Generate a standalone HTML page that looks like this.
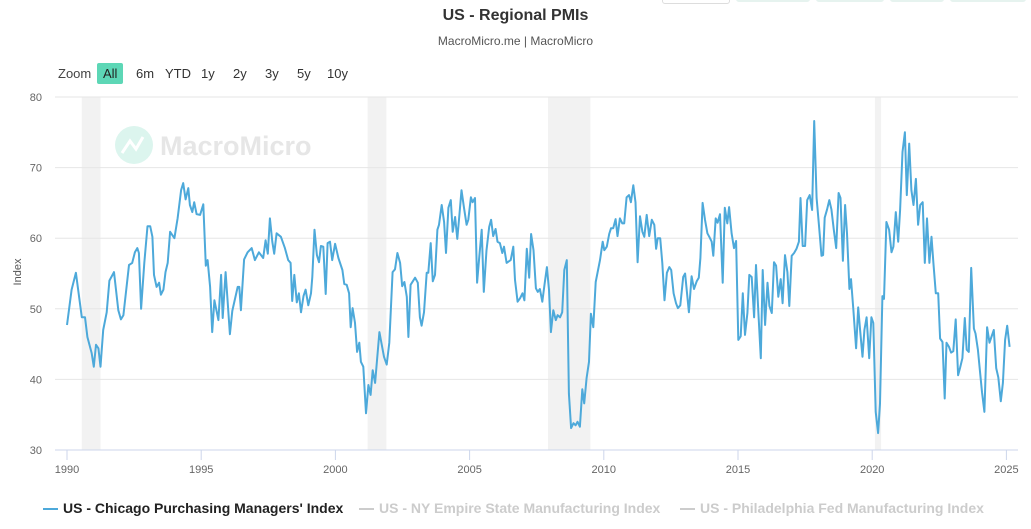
<!DOCTYPE html>
<html><head><meta charset="utf-8"><style>
body{margin:0;width:1031px;height:529px;background:#fff;font-family:"Liberation Sans",Arial,sans-serif;overflow:hidden;position:relative}
.btn{position:absolute;font-size:13px;color:#333;padding:3px 6px;border-radius:2px}
</style></head><body>
<div>
<div style="position:absolute;left:662px;top:-6px;width:66px;height:8px;border:1px solid #ddd;border-radius:3px"></div>
<div style="position:absolute;left:736px;top:-6px;width:74px;height:8px;background:#e6f3ef;border-radius:3px"></div>
<div style="position:absolute;left:816px;top:-6px;width:68px;height:8px;background:#e6f3ef;border-radius:3px"></div>
<div style="position:absolute;left:890px;top:-6px;width:54px;height:8px;background:#e6f3ef;border-radius:3px"></div>
<div style="position:absolute;left:950px;top:-6px;width:76px;height:8px;background:#e6f3ef;border-radius:3px"></div>
</div>
<div style="position:absolute;left:0;width:1031px;top:7px;text-align:center;font-size:16px;font-weight:bold;color:#333">US - Regional PMIs</div>
<div style="position:absolute;left:0;width:1031px;top:34px;text-align:center;font-size:12px;color:#555">MacroMicro.me | MacroMicro</div>
<div class="btn" style="left:52px;top:63px;color:#444">Zoom</div>
<div class="btn" style="left:97px;top:63px;background:#5dd7b6;color:#222">All</div>
<div class="btn" style="left:130px;top:63px">6m</div>
<div class="btn" style="left:159px;top:63px">YTD</div>
<div class="btn" style="left:195px;top:63px">1y</div>
<div class="btn" style="left:227px;top:63px">2y</div>
<div class="btn" style="left:259px;top:63px">3y</div>
<div class="btn" style="left:291px;top:63px">5y</div>
<div class="btn" style="left:321px;top:63px">10y</div>

<svg id="chart" width="1031" height="529" style="position:absolute;left:0;top:0" font-family="Liberation Sans, Arial, sans-serif">
<g id="bands"></g>
<g id="grid"></g>
<g>
<circle cx="134" cy="145" r="19" fill="#dcf5ee"/>
<polyline points="122,153 130,141 136,149 143,137" fill="none" stroke="#fff" stroke-width="3"/>
<text x="160" y="155" font-size="27" font-weight="bold" fill="#e6e6e6">MacroMicro</text>
</g>
<g id="xaxis"></g>
<text transform="translate(21,272) rotate(-90)" text-anchor="middle" font-size="11" fill="#555">Index</text>
<g id="series"></g>
</svg>

<div style="position:absolute;top:500px;left:43px;font-size:14px;font-weight:bold;white-space:nowrap">
<span style="position:absolute;left:0;color:#222"><span style="display:inline-block;width:15px;height:2px;background:#4da9da;vertical-align:middle;margin-right:5px"></span>US - Chicago Purchasing Managers' Index</span>
<span style="position:absolute;left:316px;color:#ccc"><span style="display:inline-block;width:15px;height:2px;background:#ccc;vertical-align:middle;margin-right:5px"></span>US - NY Empire State Manufacturing Index</span>
<span style="position:absolute;left:637px;color:#ccc"><span style="display:inline-block;width:15px;height:2px;background:#ccc;vertical-align:middle;margin-right:5px"></span>US - Philadelphia Fed Manufacturing Index</span>
</div>

<script>
const yTicks=[30,40,50,60,70,80];
const xTicks=[1990,1995,2000,2005,2010,2015,2020,2025];
const recStart=[1990.55,2001.2,2007.92,2020.1];
const recEnd=[1991.25,2001.9,2009.5,2020.33];
const dates=[1990.0,1990.17,1990.33,1990.55,1990.67,1990.76,1990.92,1991.0,1991.08,1991.17,1991.25,1991.35,1991.48,1991.58,1991.75,1991.91,1992.01,1992.1,1992.31,1992.43,1992.53,1992.62,1992.68,1992.76,1992.88,1993.0,1993.1,1993.18,1993.24,1993.34,1993.43,1993.5,1993.59,1993.67,1993.75,1993.84,1994.0,1994.12,1994.25,1994.33,1994.42,1994.52,1994.58,1994.67,1994.74,1994.83,1994.96,1995.08,1995.17,1995.24,1995.33,1995.41,1995.49,1995.64,1995.74,1995.8,1995.91,1996.07,1996.16,1996.36,1996.42,1996.48,1996.6,1996.73,1996.88,1997.0,1997.15,1997.31,1997.4,1997.48,1997.56,1997.65,1997.72,1997.81,1997.97,1998.12,1998.24,1998.33,1998.39,1998.47,1998.56,1998.64,1998.72,1998.81,1998.89,1998.99,1999.09,1999.14,1999.22,1999.31,1999.39,1999.46,1999.55,1999.64,1999.71,1999.8,1999.88,1999.99,2000.11,2000.26,2000.33,2000.42,2000.51,2000.57,2000.64,2000.73,2000.81,2000.89,2000.95,2001.04,2001.14,2001.23,2001.31,2001.39,2001.48,2001.64,2001.81,2001.91,2002.01,2002.13,2002.22,2002.31,2002.41,2002.49,2002.57,2002.66,2002.72,2002.8,2002.97,2003.07,2003.15,2003.21,2003.3,2003.4,2003.46,2003.55,2003.63,2003.71,2003.8,2003.86,2003.96,2004.05,2004.12,2004.21,2004.3,2004.37,2004.46,2004.54,2004.62,2004.7,2004.79,2004.89,2004.95,2005.05,2005.11,2005.2,2005.28,2005.36,2005.45,2005.53,2005.63,2005.73,2005.8,2005.88,2005.97,2006.04,2006.13,2006.22,2006.28,2006.38,2006.53,2006.63,2006.69,2006.79,2006.88,2006.97,2007.04,2007.13,2007.22,2007.29,2007.38,2007.47,2007.54,2007.62,2007.71,2007.79,2007.88,2007.96,2008.03,2008.12,2008.21,2008.28,2008.37,2008.45,2008.53,2008.62,2008.7,2008.78,2008.87,2008.95,2009.02,2009.11,2009.2,2009.27,2009.36,2009.45,2009.52,2009.61,2009.7,2009.86,2009.96,2010.02,2010.11,2010.2,2010.27,2010.35,2010.44,2010.51,2010.6,2010.69,2010.76,2010.85,2010.94,2011.01,2011.1,2011.18,2011.26,2011.35,2011.44,2011.51,2011.6,2011.69,2011.79,2011.88,2011.95,2012.01,2012.1,2012.18,2012.26,2012.35,2012.44,2012.51,2012.6,2012.69,2012.76,2012.85,2012.96,2013.03,2013.17,2013.27,2013.36,2013.46,2013.54,2013.6,2013.68,2013.77,2013.86,2013.93,2014.02,2014.08,2014.17,2014.24,2014.33,2014.43,2014.51,2014.6,2014.67,2014.76,2014.85,2014.93,2015.01,2015.1,2015.18,2015.26,2015.35,2015.42,2015.51,2015.6,2015.67,2015.76,2015.85,2015.92,2016.01,2016.1,2016.17,2016.26,2016.34,2016.42,2016.5,2016.59,2016.66,2016.75,2016.84,2016.91,2017.0,2017.09,2017.18,2017.27,2017.33,2017.41,2017.5,2017.58,2017.67,2017.76,2017.84,2017.93,2018.02,2018.11,2018.17,2018.23,2018.32,2018.4,2018.48,2018.57,2018.66,2018.75,2018.82,2018.91,2018.99,2019.06,2019.15,2019.21,2019.3,2019.4,2019.48,2019.55,2019.64,2019.71,2019.79,2019.89,2019.97,2020.04,2020.13,2020.22,2020.29,2020.38,2020.44,2020.53,2020.63,2020.72,2020.79,2020.88,2020.97,2021.04,2021.13,2021.22,2021.29,2021.38,2021.46,2021.54,2021.63,2021.71,2021.79,2021.88,2021.96,2022.04,2022.13,2022.21,2022.28,2022.37,2022.46,2022.53,2022.62,2022.7,2022.77,2022.86,2022.94,2023.02,2023.11,2023.2,2023.27,2023.36,2023.45,2023.52,2023.6,2023.69,2023.79,2023.85,2023.94,2024.01,2024.09,2024.18,2024.28,2024.37,2024.44,2024.53,2024.62,2024.7,2024.79,2024.87,2024.95,2025.03,2025.12];
const values=[47.7,52.7,55.1,48.8,48.8,46,43.7,41.8,44.9,44.4,41.8,47,49.5,54,55.2,49.8,48.5,49.1,56.2,56.5,58,58.6,57.9,50,56.5,61.7,61.7,60.2,54.8,53.1,53.7,52,52.7,55.2,56.5,60.9,60,62.8,66.8,67.8,65.5,67.1,64.7,63.7,65.1,63.4,63.3,64.8,56.1,56.9,53.1,46.7,51.2,48.4,54.8,48.7,55.2,46.4,49.7,53.1,53.1,49.8,57,58,58.6,56.9,58,57.2,59.7,57.8,62.8,59.5,57.8,60.7,60.2,58.6,56.9,56.5,51.1,54.8,50.9,52.2,49.5,51.8,52.7,50.5,52.2,54.5,61.2,57.6,56.6,58.9,58.8,52.1,59.3,59.5,56.9,59.2,57.2,55.5,53.5,53.4,52.2,47.4,50.1,48,43.9,45.2,42.5,41.8,35.2,39.2,37.8,41.3,39.5,46.7,43.2,42.1,45.2,55.2,55.6,57.9,56.5,53.2,53.8,51.7,46,53.4,54.4,53.7,48.8,47.6,49.5,55.1,55.1,59.3,53.9,54.8,61.2,61.9,64.7,62.3,57.9,64.3,65.4,60.9,63,59.9,63.3,66.8,64.3,61.9,62.6,65.8,65.1,65.7,53.7,57.4,61.2,52.4,58.3,61.6,62.6,60.3,61.3,59.5,59.3,57.9,58.8,56.5,56.9,58.8,54.1,51,51.5,52.2,51.2,58.5,54.4,60.6,58.3,52.9,52.4,52.8,51,53.4,55.9,52.7,46.7,49.8,48.4,49.1,48.8,49.5,55.5,56.9,38,33.1,33.8,33.5,34,33.3,38.6,36.6,40.2,42.5,49.3,47.4,53.8,56.9,59.5,58.3,58.8,60.6,61.4,61.4,62.7,60.3,62.8,62.1,62.1,65.8,66.1,65.1,67.5,65.1,56.6,63.1,60.9,60.2,63.3,60.3,62.6,61.9,58.5,60,60,56.5,51.2,55.1,55.9,55.5,52.2,50.8,50.1,50.5,54.5,55,49.5,54.6,52.8,53.9,54.4,57.2,65,62.6,60.7,60.2,59.5,57.5,62.8,62.2,63.4,53.7,64.3,62.1,64.4,60.7,58.6,59.6,45.6,46.1,52.2,46.3,49.4,54.8,54.5,48.8,56.2,49.4,43,55.5,47.7,53.7,50.4,49.4,56.6,56.1,51.7,54.2,50.8,57.6,55.2,50.4,57.5,57.9,58.5,59.5,65.7,58.9,58.9,65.4,66.1,64,76.6,65.7,61.6,57.5,57.6,62.9,64.1,65.4,64.1,61.2,58.6,66.4,65.7,56.8,64.7,60.7,52.8,54.2,49.8,44.4,50.2,47,43.2,47,48.8,43,48.8,48,35.4,32.4,36.6,51.8,51.4,62.3,61.2,58,58.8,63.7,59.5,64,72.2,75,66.1,73.4,66.8,64.7,68.4,61.9,64.7,65.1,56.5,62.8,56.5,60.2,56.5,52.2,52.2,45.8,45.3,37.3,45.2,44.6,43.8,44,48.5,40.6,41.6,43,48.7,44.2,43.9,55.8,47.2,46.5,44.2,41.4,38.2,35.4,47.4,45.2,46,47,41.6,40.3,36.9,39.5,45.6,47.6,44.6];

const NS='http://www.w3.org/2000/svg';
const L=55,R=1018;
function x(yr){return 67+(yr-1990)*26.84;}
function y(v){return 97+(80-v)*7.06;}
function mk(tag,attrs,parent){const e=document.createElementNS(NS,tag);for(const k in attrs)e.setAttribute(k,attrs[k]);parent.appendChild(e);return e;}

const bands=document.getElementById('bands');
recStart.forEach((s,i)=>{
  const r=mk('rect',{x:x(s),y:97,width:x(recEnd[i])-x(s),height:353,fill:'#f2f2f2'},bands);
  
  
});
const grid=document.getElementById('grid');
yTicks.forEach(t=>{
  const ln=mk('line',{x1:L,x2:R,y1:y(t),y2:y(t),stroke:t===30?'#ccd6eb':'#e6e6e6','stroke-width':1},grid);
  
  
  const tx=mk('text',{x:42,y:y(t)+4,'text-anchor':'end','font-size':11,fill:'#666'},grid);
  tx.textContent=t;
  
  
});
const xa=document.getElementById('xaxis');
xTicks.forEach(t=>{
  const ln=mk('line',{x1:x(t),x2:x(t),y1:450,y2:460,stroke:'#ccd6eb'},xa);
  
  
  const tx=mk('text',{x:x(t),y:473,'text-anchor':'middle','font-size':11,fill:'#666'},xa);
  tx.textContent=t;
  
  
});
const pts=dates.map((d,i)=>x(d).toFixed(1)+','+y(values[i]).toFixed(1)).join(' ');
const line=mk('polyline',{points:pts,fill:'none',stroke:'#4da9da','stroke-width':2,'stroke-linejoin':'round'},document.getElementById('series'));


</script>
</body></html>
